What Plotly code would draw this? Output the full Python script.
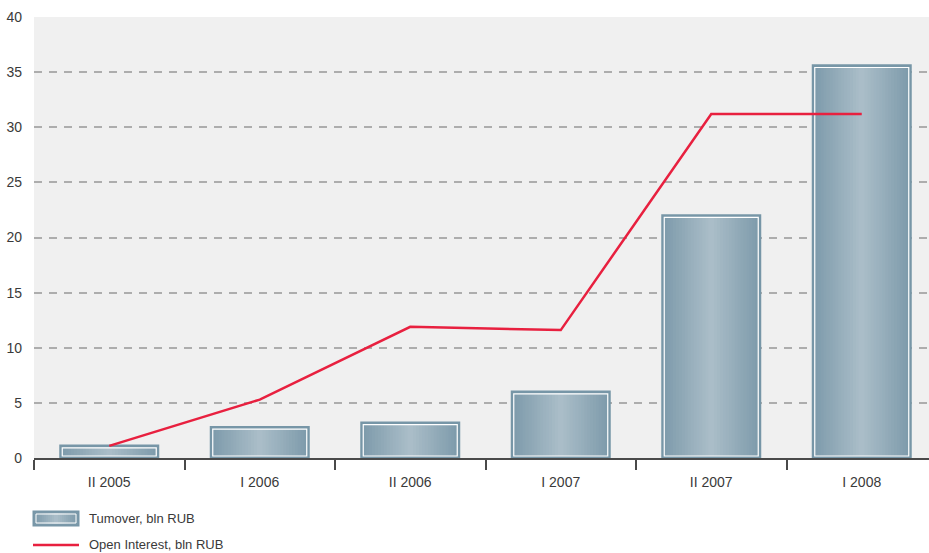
import plotly.graph_objects as go

# Half-year periods and the two series (bln RUB)
periods = ["II 2005", "I 2006", "II 2006", "I 2007", "II 2007", "I 2008"]
turnover = [1.1, 2.8, 3.2, 6.0, 22.0, 35.6]
open_interest = [1.1, 5.3, 11.9, 11.6, 31.2, 31.2]
y_ticks = [0, 5, 10, 15, 20, 25, 30, 35, 40]

turnover_name = "Tumover, bln RUB"
oi_name = "Open Interest, bln RUB"

# Layout geometry (pixels)
W, H = 929, 553
ML, MR, MT, MB = 34, 0, 17, 95
PX_PER_CAT = 150.5
PX_PER_UNIT = (H - MT - MB) / 40.0

DARK = (126, 155, 171)
LIGHT = (171, 190, 201)
EDGE = "#7796a7"
RED = "#e8203f"
FONT = "Liberation Sans, Arial, sans-serif"
TEXT = "#3a3a3a"


def mix(a, b, t):
    return "rgb({},{},{})".format(*[round(a[i] + (b[i] - a[i]) * t) for i in range(3)])


outer_w = 97.5 / PX_PER_CAT          # bar body width (category units)
inner_w = (97.5 - 3.5) / PX_PER_CAT  # white inner frame width
inset = 2.0 / PX_PER_UNIT            # vertical inset of the inner frame

fig = go.Figure()

# Outer bar body with its blue-grey border
fig.add_trace(go.Bar(
    x=periods, y=turnover, width=outer_w, name=turnover_name,
    marker=dict(color=mix(DARK, DARK, 0), line=dict(color=EDGE, width=2.5)),
    hovertemplate="%{x}: %{y}<extra>" + turnover_name + "</extra>",
))

# Horizontal shading: nested bars, lighter toward the centre
N = 16
inner_y = [v - 2 * inset for v in turnover]
for k in range(N):
    r = (N - k - 0.5) / N
    fig.add_trace(go.Bar(
        x=periods, y=inner_y, base=inset, width=inner_w * (N - k) / N,
        marker=dict(color=mix(LIGHT, DARK, r), line=dict(width=0)),
        hoverinfo="skip", showlegend=False,
    ))

# Thin white inner frame
fig.add_trace(go.Bar(
    x=periods, y=inner_y, base=inset, width=inner_w,
    marker=dict(color="rgba(0,0,0,0)", line=dict(color="white", width=1.2)),
    hoverinfo="skip", showlegend=False,
))

# Open interest line
fig.add_trace(go.Scatter(
    x=periods, y=open_interest, mode="lines", name=oi_name,
    line=dict(color=RED, width=2.5),
))

plot_w = W - ML - MR
plot_h = H - MT - MB


def px_x(p):
    return (p - ML) / plot_w


def px_y(p):
    return (H - MB - p) / plot_h


# Hand-drawn legend below the chart
shapes = []
lx0, lx1, ly0, ly1 = 33.5, 78.5, 511.5, 525.5
shapes.append(dict(type="rect", xref="paper", yref="paper",
                   x0=px_x(lx0), x1=px_x(lx1), y0=px_y(ly1), y1=px_y(ly0),
                   fillcolor=mix(DARK, DARK, 0), line=dict(color=EDGE, width=2)))
M = 10
cx = (lx0 + lx1) / 2
half = (lx1 - lx0) / 2 - 2
for k in range(M):
    r = (M - k - 0.5) / M
    hw = half * (M - k) / M
    shapes.append(dict(type="rect", xref="paper", yref="paper",
                       x0=px_x(cx - hw), x1=px_x(cx + hw),
                       y0=px_y(ly1 - 2), y1=px_y(ly0 + 2),
                       fillcolor=mix(LIGHT, DARK, r), line=dict(width=0)))
shapes.append(dict(type="rect", xref="paper", yref="paper",
                   x0=px_x(lx0 + 2.5), x1=px_x(lx1 - 2.5),
                   y0=px_y(ly1 - 2.5), y1=px_y(ly0 + 2.5),
                   fillcolor="rgba(0,0,0,0)", line=dict(color="white", width=1)))
shapes.append(dict(type="line", xref="paper", yref="paper",
                   x0=px_x(33), x1=px_x(79), y0=px_y(545), y1=px_y(545),
                   line=dict(color=RED, width=2.5)))

annotations = [
    dict(text=turnover_name, xref="paper", yref="paper", x=px_x(87), y=px_y(518.5),
         xanchor="left", yanchor="middle", showarrow=False,
         font=dict(family=FONT, size=13, color=TEXT)),
    dict(text=oi_name, xref="paper", yref="paper", x=px_x(87), y=px_y(554),
         xanchor="left", yanchor="bottom", showarrow=False,
         font=dict(family=FONT, size=13, color=TEXT)),
]

fig.update_layout(
    width=W, height=H,
    margin=dict(l=ML, r=MR, t=MT, b=MB, pad=0),
    paper_bgcolor="white", plot_bgcolor="#f0f0f0",
    barmode="overlay", showlegend=False,
    font=dict(family=FONT, size=14, color=TEXT),
    shapes=shapes, annotations=annotations,
    xaxis=dict(
        type="category", range=[-0.5, -0.5 + plot_w / PX_PER_CAT],
        showgrid=False, zeroline=False,
        showline=True, linecolor="#4a4a4a", linewidth=2,
        ticks="outside", tickson="boundaries", ticklen=10, tickwidth=1.5,
        tickcolor="#4a4a4a", ticklabelstandoff=10,
        tickfont=dict(family=FONT, size=14, color=TEXT),
    ),
    yaxis=dict(
        range=[0, 40], tickvals=y_ticks, ticktext=[str(v) for v in y_ticks],
        showgrid=True, gridcolor="#adadad", gridwidth=1.5, griddash="8px,7px",
        zeroline=False, showline=False, ticks="", ticklabelstandoff=11,
        tickfont=dict(family=FONT, size=14, color=TEXT),
    ),
)

fig.write_html("out.html")
